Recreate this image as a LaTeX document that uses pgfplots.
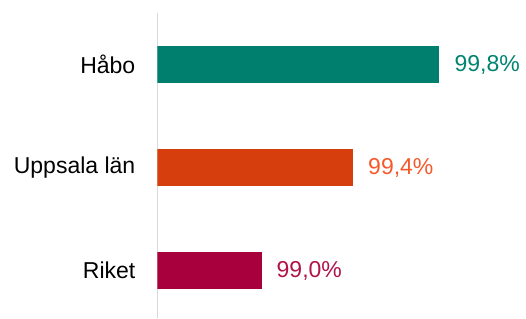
\documentclass[border=0pt]{standalone}
\usepackage{fontspec}
\setmainfont{Liberation Sans}
\usepackage{pgfplots}
\pgfplotsset{compat=1.18}
\definecolor{cHabo}{HTML}{007E6E}
\definecolor{cUpp}{HTML}{D73E0E}
\definecolor{cRik}{HTML}{A8003C}
\definecolor{lHabo}{HTML}{00836F}
\definecolor{lUpp}{HTML}{F5592B}
\definecolor{lRik}{HTML}{B0134A}
\definecolor{axgray}{HTML}{D9D9D9}
\begin{document}
\begin{tikzpicture}
\begin{axis}[
  at={(0,0)}, anchor=south west,
  scale only axis,
  width=353.6pt, height=305pt,
  xmin=98.5, xmax=100.2,
  ymin=-0.461, ymax=2.5,
  xbar, bar shift=0pt, bar width=37pt,
  hide x axis,
  axis y line*=left,
  y axis line style={draw=axgray, line width=1.5pt, -},
  ytick={0,1,2},
  yticklabels={Riket, Uppsala län, Håbo},
  major tick length=0pt,
  ytick style={draw=none},
  yticklabel style={font=\fontsize{23}{27}\selectfont, text=black, inner sep=0pt, xshift=-22pt},
  nodes near coords style={font=\fontsize{23}{27}\selectfont, anchor=west, inner sep=0pt, xshift=15pt},
  clip=true,
]
\addplot[fill=cRik, draw=none, nodes near coords={99,0\%}, nodes near coords style={text=lRik}] coordinates {(99.0,0)};
\addplot[fill=cUpp, draw=none, nodes near coords={99,4\%}, nodes near coords style={text=lUpp}] coordinates {(99.44,1)};
\addplot[fill=cHabo, draw=none, nodes near coords={99,8\%}, nodes near coords style={text=lHabo}] coordinates {(99.855,2)};
\end{axis}
\path[use as bounding box] (-157.5pt,0) rectangle (368.5pt,318pt);
\end{tikzpicture}
\end{document}
